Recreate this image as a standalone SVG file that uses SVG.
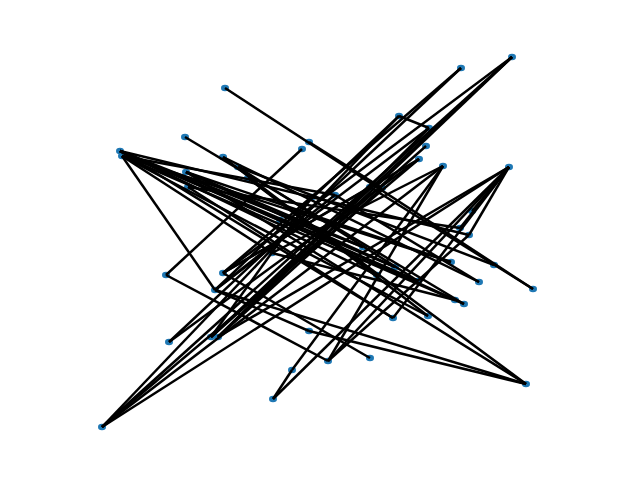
<svg xmlns="http://www.w3.org/2000/svg" width="640" height="480" viewBox="0 0 640 480">
<style>
.n{fill:#1f78b4}
.e line{stroke:#000;stroke-width:2.5;stroke-linecap:butt}
</style>
<rect width="640" height="480" fill="#fff"/>
<g id="nodes">
<g id="n1"><ellipse class="n" cx="225" cy="88" rx="4" ry="3.2"/></g>
<g id="n2"><ellipse class="n" cx="461" cy="68" rx="4" ry="3.2"/></g>
<g id="n3"><ellipse class="n" cx="512" cy="57" rx="4" ry="3.2"/></g>
<g id="n4"><ellipse class="n" cx="185" cy="137" rx="4" ry="3.2"/></g>
<g id="n5"><ellipse class="n" cx="120" cy="151" rx="4" ry="3.2"/></g>
<g id="n6"><ellipse class="n" cx="122" cy="156" rx="4" ry="3.2"/></g>
<g id="n7"><ellipse class="n" cx="399" cy="116" rx="4" ry="3.2"/></g>
<g id="n8"><ellipse class="n" cx="429" cy="128" rx="4" ry="3.2"/></g>
<g id="n9"><ellipse class="n" cx="426" cy="146" rx="4" ry="3.2"/></g>
<g id="n10"><ellipse class="n" cx="419" cy="159" rx="4" ry="3.2"/></g>
<g id="n11"><ellipse class="n" cx="309" cy="142" rx="4" ry="3.2"/></g>
<g id="n12"><ellipse class="n" cx="302" cy="149" rx="4" ry="3.2"/></g>
<g id="n13"><ellipse class="n" cx="223" cy="157" rx="4" ry="3.2"/></g>
<g id="n14"><ellipse class="n" cx="238" cy="167" rx="4" ry="3.2"/></g>
<g id="n15"><ellipse class="n" cx="248" cy="178" rx="4" ry="3.2"/></g>
<g id="n16"><ellipse class="n" cx="186" cy="172" rx="4" ry="3.2"/></g>
<g id="n17"><ellipse class="n" cx="188" cy="187" rx="4" ry="3.2"/></g>
<g id="n18"><ellipse class="n" cx="443" cy="166" rx="4" ry="3.2"/></g>
<g id="n19"><ellipse class="n" cx="509" cy="167" rx="4" ry="3.2"/></g>
<g id="n20"><ellipse class="n" cx="472" cy="211" rx="4" ry="3.2"/></g>
<g id="n21"><ellipse class="n" cx="460" cy="228" rx="4" ry="3.2"/></g>
<g id="n22"><ellipse class="n" cx="469" cy="235" rx="4" ry="3.2"/></g>
<g id="n23"><ellipse class="n" cx="451" cy="262" rx="4" ry="3.2"/></g>
<g id="n24"><ellipse class="n" cx="494" cy="265" rx="4" ry="3.2"/></g>
<g id="n25"><ellipse class="n" cx="479" cy="282" rx="4" ry="3.2"/></g>
<g id="n26"><ellipse class="n" cx="533" cy="289" rx="4" ry="3.2"/></g>
<g id="n27"><ellipse class="n" cx="455" cy="300" rx="4" ry="3.2"/></g>
<g id="n28"><ellipse class="n" cx="464" cy="304" rx="4" ry="3.2"/></g>
<g id="n29"><ellipse class="n" cx="428" cy="316" rx="4" ry="3.2"/></g>
<g id="n30"><ellipse class="n" cx="393" cy="318" rx="4" ry="3.2"/></g>
<g id="n31"><ellipse class="n" cx="377" cy="275" rx="4" ry="3.2"/></g>
<g id="n32"><ellipse class="n" cx="418" cy="281" rx="4" ry="3.2"/></g>
<g id="n33"><ellipse class="n" cx="395" cy="267" rx="4" ry="3.2"/></g>
<g id="n34"><ellipse class="n" cx="363" cy="247" rx="4" ry="3.2"/></g>
<g id="n35"><ellipse class="n" cx="370" cy="187" rx="4" ry="3.2"/></g>
<g id="n36"><ellipse class="n" cx="382" cy="188" rx="4" ry="3.2"/></g>
<g id="n37"><ellipse class="n" cx="335" cy="195" rx="4" ry="3.2"/></g>
<g id="n38"><ellipse class="n" cx="312" cy="197" rx="4" ry="3.2"/></g>
<g id="n39"><ellipse class="n" cx="280" cy="220" rx="4" ry="3.2"/></g>
<g id="n40"><ellipse class="n" cx="272" cy="253" rx="4" ry="3.2"/></g>
<g id="n41"><ellipse class="n" cx="223" cy="273" rx="4" ry="3.2"/></g>
<g id="n42"><ellipse class="n" cx="215" cy="290" rx="4" ry="3.2"/></g>
<g id="n43"><ellipse class="n" cx="166" cy="275" rx="4" ry="3.2"/></g>
<g id="n44"><ellipse class="n" cx="169" cy="342" rx="4" ry="3.2"/></g>
<g id="n45"><ellipse class="n" cx="211" cy="337" rx="4" ry="3.2"/></g>
<g id="n46"><ellipse class="n" cx="218" cy="337" rx="4" ry="3.2"/></g>
<g id="n47"><ellipse class="n" cx="309" cy="331" rx="4" ry="3.2"/></g>
<g id="n48"><ellipse class="n" cx="328" cy="361" rx="4" ry="3.2"/></g>
<g id="n49"><ellipse class="n" cx="370" cy="358" rx="4" ry="3.2"/></g>
<g id="n50"><ellipse class="n" cx="292" cy="370" rx="4" ry="3.2"/></g>
<g id="n51"><ellipse class="n" cx="273" cy="399" rx="4" ry="3.2"/></g>
<g id="n52"><ellipse class="n" cx="102" cy="427" rx="4" ry="3.2"/></g>
<g id="n53"><ellipse class="n" cx="526" cy="384" rx="4" ry="3.2"/></g>
</g>
<g id="edges" class="e">
<line x1="225" y1="88" x2="533" y2="289"/>
<line x1="461" y1="68" x2="169" y2="342"/>
<line x1="512" y1="57" x2="102" y2="427"/>
<line x1="512" y1="57" x2="223" y2="273"/>
<line x1="512" y1="57" x2="211" y2="337"/>
<line x1="512" y1="57" x2="218" y2="337"/>
<line x1="102" y1="427" x2="399" y2="116"/>
<line x1="102" y1="427" x2="419" y2="159"/>
<line x1="102" y1="427" x2="509" y2="167"/>
<line x1="102" y1="427" x2="443" y2="166"/>
<line x1="509" y1="167" x2="472" y2="211"/>
<line x1="509" y1="167" x2="469" y2="235"/>
<line x1="509" y1="167" x2="460" y2="228"/>
<line x1="509" y1="167" x2="218" y2="337"/>
<line x1="509" y1="167" x2="393" y2="318"/>
<line x1="509" y1="167" x2="273" y2="399"/>
<line x1="526" y1="384" x2="186" y2="172"/>
<line x1="526" y1="384" x2="248" y2="178"/>
<line x1="526" y1="384" x2="215" y2="290"/>
<line x1="122" y1="156" x2="215" y2="290"/>
<line x1="166" y1="275" x2="302" y2="149"/>
<line x1="166" y1="275" x2="328" y2="361"/>
<line x1="120" y1="151" x2="377" y2="275"/>
<line x1="120" y1="151" x2="395" y2="267"/>
<line x1="120" y1="151" x2="418" y2="281"/>
<line x1="122" y1="156" x2="428" y2="316"/>
<line x1="122" y1="156" x2="455" y2="300"/>
<line x1="120" y1="151" x2="393" y2="318"/>
<line x1="120" y1="151" x2="469" y2="235"/>
<line x1="120" y1="151" x2="363" y2="247"/>
<line x1="122" y1="156" x2="335" y2="195"/>
<line x1="122" y1="156" x2="272" y2="253"/>
<line x1="120" y1="151" x2="280" y2="220"/>
<line x1="122" y1="156" x2="451" y2="262"/>
<line x1="185" y1="137" x2="464" y2="304"/>
<line x1="223" y1="157" x2="479" y2="282"/>
<line x1="238" y1="167" x2="494" y2="265"/>
<line x1="186" y1="172" x2="451" y2="262"/>
<line x1="188" y1="187" x2="460" y2="228"/>
<line x1="273" y1="399" x2="292" y2="370"/>
<line x1="292" y1="370" x2="443" y2="166"/>
<line x1="328" y1="361" x2="509" y2="167"/>
<line x1="328" y1="361" x2="443" y2="166"/>
<line x1="328" y1="361" x2="469" y2="235"/>
<line x1="370" y1="358" x2="223" y2="273"/>
<line x1="218" y1="337" x2="429" y2="128"/>
<line x1="211" y1="337" x2="426" y2="146"/>
<line x1="215" y1="290" x2="399" y2="116"/>
<line x1="215" y1="290" x2="429" y2="128"/>
<line x1="223" y1="273" x2="461" y2="68"/>
<line x1="223" y1="273" x2="419" y2="159"/>
<line x1="272" y1="253" x2="443" y2="166"/>
<line x1="169" y1="342" x2="419" y2="159"/>
<line x1="211" y1="337" x2="370" y2="187"/>
<line x1="223" y1="157" x2="377" y2="275"/>
<line x1="238" y1="167" x2="418" y2="281"/>
<line x1="248" y1="178" x2="428" y2="316"/>
<line x1="186" y1="172" x2="395" y2="267"/>
<line x1="188" y1="187" x2="393" y2="318"/>
<line x1="186" y1="172" x2="363" y2="247"/>
<line x1="309" y1="142" x2="382" y2="188"/>
<line x1="399" y1="116" x2="429" y2="128"/>
<line x1="370" y1="187" x2="223" y2="273"/>
<line x1="335" y1="195" x2="215" y2="290"/>
<line x1="312" y1="197" x2="211" y2="337"/>
<line x1="280" y1="220" x2="464" y2="304"/>
<line x1="272" y1="253" x2="455" y2="300"/>
<line x1="309" y1="331" x2="526" y2="384"/>
<line x1="215" y1="290" x2="309" y2="331"/>
<line x1="382" y1="188" x2="218" y2="337"/>
<line x1="370" y1="187" x2="533" y2="289"/>
<line x1="335" y1="195" x2="479" y2="282"/>
</g>
</svg>
